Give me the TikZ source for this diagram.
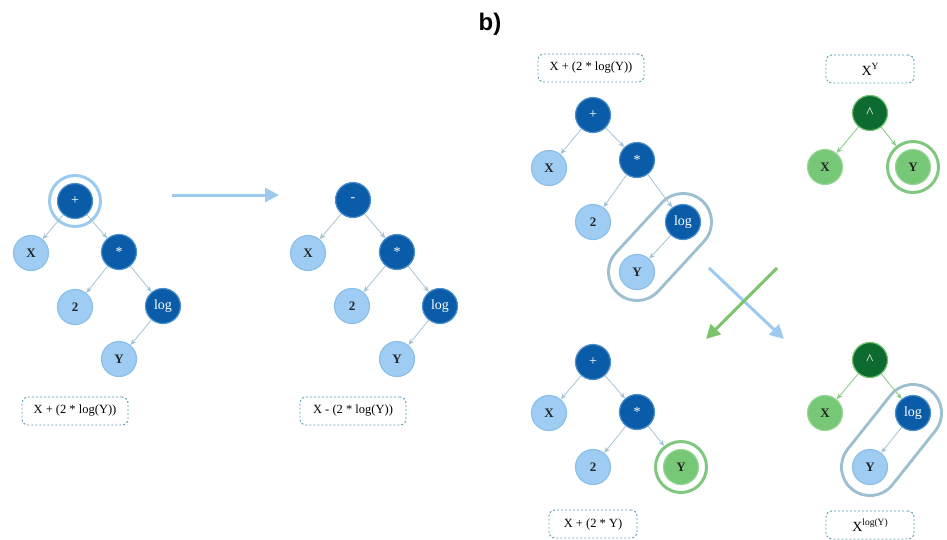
\documentclass[tikz,border=0pt]{standalone}
\usepackage{fontspec}
\setmainfont{Liberation Serif}
\newfontfamily\titlefont{Liberation Sans}
\usetikzlibrary{arrows.meta,backgrounds}

\definecolor{darkblue}{HTML}{0B5CA8}
\definecolor{darkblueedge}{HTML}{4A8ECB}
\definecolor{lightblue}{HTML}{9FCCF3}
\definecolor{lightblueedge}{HTML}{8CC0E8}
\definecolor{edgeblue}{HTML}{A6C3D3}
\definecolor{lightgreen}{HTML}{76C776}
\definecolor{lightgreenedge}{HTML}{9AD69A}
\definecolor{darkgreen}{HTML}{0E6B30}
\definecolor{darkgreenedge}{HTML}{6FBF6F}
\definecolor{edgegreen}{HTML}{8ECB8B}
\definecolor{ringblue}{HTML}{9CCBEF}
\definecolor{ringgreen}{HTML}{80C77F}
\definecolor{capsulecol}{HTML}{9DBFCF}
\definecolor{boxline}{HTML}{5C9CB3}
\definecolor{arrowblue}{HTML}{9CCBEF}
\definecolor{arrowgreen}{HTML}{7CC46A}

% raised exponent, a little larger than \textsuperscript
\newcommand{\expo}[1]{\raisebox{0.42em}{\fontsize{9.5}{11}\selectfont #1}}

\tikzset{
  treenode/.style={circle, minimum size=35, inner sep=0, line width=1.2},
  opnode/.style={treenode, fill=darkblue, draw=darkblueedge, text=white,
    font=\fontsize{14}{16}\selectfont},
  leafnode/.style={treenode, fill=lightblue, draw=lightblueedge, text=black!85,
    font=\fontsize{13}{15}\selectfont\bfseries},
  gopnode/.style={treenode, fill=darkgreen, draw=darkgreenedge, text=white,
    font=\fontsize{15}{17}\selectfont},
  gleafnode/.style={treenode, fill=lightgreen, draw=lightgreenedge, text=black!85,
    font=\fontsize{13}{15}\selectfont\bfseries},
  ringb/.style={circle, minimum size=51, inner sep=0, draw=ringblue, line width=3},
  ringg/.style={circle, minimum size=51, inner sep=0, draw=ringgreen, line width=3},
  tedge/.style={draw=edgeblue, line width=0.8, -{Stealth[length=6,width=5]}},
  gedge/.style={draw=edgegreen, line width=0.9, -{Stealth[length=6,width=5]}},
  exprbox/.style={draw=boxline, dash pattern=on 2pt off 2pt, rounded corners=6,
    line width=0.9, minimum width=106, minimum height=28, inner sep=0,
    font=\fontsize{12.5}{14}\selectfont},
  gexprbox/.style={exprbox, minimum width=88},
  capsule/.style={line width=60, line cap=round, draw=capsulecol},
  capsulein/.style={line width=54, line cap=round, draw=white},
  bigarrow/.style={line width=3, -{Triangle[length=14,width=14]}},
}

\begin{document}
\begin{tikzpicture}[x=1pt,y=-1pt]
  \useasboundingbox (0,0) rectangle (947,539);

  % panel label
  \node[font=\titlefont\bfseries\fontsize{24}{28}\selectfont] (title) at (490,24) {b)};

  % ---- original tree: X + (2 * log(Y))
  \node[ringb] (r1) at (75,201) {};
  \node[opnode] (p1) at (75,201) {+};
  \node[leafnode] (x1) at (31,253) {X};
  \node[opnode] (m1) at (119,252) {*};
  \node[leafnode] (t1) at (75,307) {2};
  \node[opnode] (l1) at (163,306) {log};
  \node[leafnode] (y1) at (119,359) {Y};
  \draw[tedge] (p1) -- (x1);
  \draw[tedge] (p1) -- (m1);
  \draw[tedge] (m1) -- (t1);
  \draw[tedge] (m1) -- (l1);
  \draw[tedge] (l1) -- (y1);
  \node[exprbox] (e1) at (75,411) {X + (2 * log(Y))};

  % mutation arrow
  \coordinate (ma) at (172,195);
  \coordinate (mb) at (279,195);
  \draw[bigarrow, draw=arrowblue, fill=arrowblue] (ma) -- (mb);

  % ---- mutated tree: X - (2 * log(Y))
  \node[opnode] (p2) at (353,200) {-};
  \node[leafnode] (x2) at (308,253) {X};
  \node[opnode] (m2) at (397,252) {*};
  \node[leafnode] (t2) at (352,306) {2};
  \node[opnode] (l2) at (440,306) {log};
  \node[leafnode] (y2) at (397,359) {Y};
  \draw[tedge] (p2) -- (x2);
  \draw[tedge] (p2) -- (m2);
  \draw[tedge] (m2) -- (t2);
  \draw[tedge] (m2) -- (l2);
  \draw[tedge] (l2) -- (y2);
  \node[exprbox] (e2) at (353,411) {X - (2 * log(Y))};

  % ---- first parent: X + (2 * log(Y))
  \node[exprbox] (e3) at (591,68) {X + (2 * log(Y))};
  \node[opnode] (p3) at (593,115) {+};
  \node[leafnode] (x3) at (549,168) {X};
  \node[opnode] (m3) at (637,160) {*};
  \node[leafnode] (t3) at (593,222) {2};
  \node[opnode] (l3) at (683,222) {log};
  \node[leafnode] (y3) at (637,272) {Y};
  \begin{pgfonlayer}{background}
    \draw[capsule] (l3.center) -- (y3.center);
    \draw[capsulein] (l3.center) -- (y3.center);
  \end{pgfonlayer}
  \draw[tedge] (p3) -- (x3);
  \draw[tedge] (p3) -- (m3);
  \draw[tedge] (m3) -- (t3);
  \draw[tedge] (m3) -- (l3);
  \draw[tedge] (l3) -- (y3);

  % ---- second parent: X^Y
  \node[gexprbox, font=\fontsize{14}{16}\selectfont] (e4) at (870,69) {X\expo{Y}};
  \node[gopnode] (p4) at (870,113) {\^{}};
  \node[gleafnode] (x4) at (825,167) {X};
  \node[ringg] (r4) at (913,167) {};
  \node[gleafnode] (y4) at (913,167) {Y};
  \draw[gedge] (p4) -- (x4);
  \draw[gedge] (p4) -- (r4);

  % crossover arrows
  \coordinate (ca) at (709,268);
  \coordinate (cb) at (784,339);
  \coordinate (cc) at (777,268);
  \coordinate (cd) at (706,339);
  \draw[bigarrow, draw=arrowblue, fill=arrowblue] (ca) -- (cb);
  \draw[bigarrow, draw=arrowgreen, fill=arrowgreen] (cc) -- (cd);

  % ---- first child: X + (2 * Y)
  \node[opnode] (p5) at (593,362) {+};
  \node[leafnode] (x5) at (549,413) {X};
  \node[opnode] (m5) at (637,412) {*};
  \node[leafnode] (t5) at (593,467) {2};
  \node[ringg] (r5) at (681,467) {};
  \node[gleafnode] (y5) at (681,467) {Y};
  \draw[tedge] (p5) -- (x5);
  \draw[tedge] (p5) -- (m5);
  \draw[tedge] (m5) -- (t5);
  \draw[tedge] (m5) -- (r5);
  \node[gexprbox] (e5) at (593,524) {X + (2 * Y)};

  % ---- second child: X^log(Y)
  \node[gopnode] (p6) at (870,360) {\^{}};
  \node[gleafnode] (x6) at (825,413) {X};
  \node[opnode] (l6) at (913,413) {log};
  \node[leafnode] (y6) at (870,467) {Y};
  \begin{pgfonlayer}{background}
    \draw[capsule] (l6.center) -- (y6.center);
    \draw[capsulein] (l6.center) -- (y6.center);
  \end{pgfonlayer}
  \draw[gedge] (p6) -- (x6);
  \draw[gedge] (p6) -- (l6);
  \draw[tedge] (l6) -- (y6);
  \node[gexprbox, font=\fontsize{14}{16}\selectfont] (e6) at (870,525) {X\expo{log(Y)}};
\end{tikzpicture}
\end{document}
